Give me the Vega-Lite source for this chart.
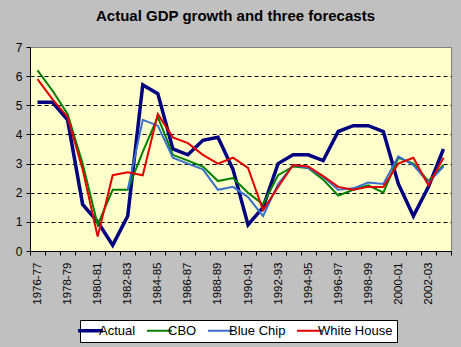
{
  "$schema": "https://vega.github.io/schema/vega-lite/v6.json",
  "autosize": "none",
  "width": 421,
  "height": 204,
  "padding": {"left": 30, "top": 47, "right": 10, "bottom": 96},
  "background": "#C0C0C0",
  "title": {
    "text": "Actual GDP growth and three forecasts",
    "font": "Liberation Sans",
    "fontSize": 15,
    "fontWeight": "bold",
    "color": "#000000",
    "anchor": "middle",
    "offset": 17,
    "dx": -5
  },
  "config": {
    "view": {"fill": "#FFFFCC", "stroke": "#808080", "strokeWidth": 1},
    "axis": {"labelFont": "Liberation Sans", "labelColor": "#000000", "titleFont": "Liberation Sans"}
  },
  "data": {
    "values": [
      {"period": "1976-77", "series": "Actual", "growth": 5.1},
      {"period": "1977-78", "series": "Actual", "growth": 5.1},
      {"period": "1978-79", "series": "Actual", "growth": 4.5},
      {"period": "1979-80", "series": "Actual", "growth": 1.6},
      {"period": "1980-81", "series": "Actual", "growth": 1.0},
      {"period": "1981-82", "series": "Actual", "growth": 0.2},
      {"period": "1982-83", "series": "Actual", "growth": 1.2},
      {"period": "1983-84", "series": "Actual", "growth": 5.7},
      {"period": "1984-85", "series": "Actual", "growth": 5.4},
      {"period": "1985-86", "series": "Actual", "growth": 3.5},
      {"period": "1986-87", "series": "Actual", "growth": 3.3},
      {"period": "1987-88", "series": "Actual", "growth": 3.8},
      {"period": "1988-89", "series": "Actual", "growth": 3.9},
      {"period": "1989-90", "series": "Actual", "growth": 2.8},
      {"period": "1990-91", "series": "Actual", "growth": 0.9},
      {"period": "1991-92", "series": "Actual", "growth": 1.5},
      {"period": "1992-93", "series": "Actual", "growth": 3.0},
      {"period": "1993-94", "series": "Actual", "growth": 3.3},
      {"period": "1994-95", "series": "Actual", "growth": 3.3},
      {"period": "1995-96", "series": "Actual", "growth": 3.1},
      {"period": "1996-97", "series": "Actual", "growth": 4.1},
      {"period": "1997-98", "series": "Actual", "growth": 4.3},
      {"period": "1998-99", "series": "Actual", "growth": 4.3},
      {"period": "1999-00", "series": "Actual", "growth": 4.1},
      {"period": "2000-01", "series": "Actual", "growth": 2.3},
      {"period": "2001-02", "series": "Actual", "growth": 1.2},
      {"period": "2002-03", "series": "Actual", "growth": 2.2},
      {"period": "2003-04", "series": "Actual", "growth": 3.5},
      {"period": "1976-77", "series": "CBO", "growth": 6.2},
      {"period": "1977-78", "series": "CBO", "growth": 5.5},
      {"period": "1978-79", "series": "CBO", "growth": 4.7},
      {"period": "1979-80", "series": "CBO", "growth": 3.0},
      {"period": "1980-81", "series": "CBO", "growth": 0.9},
      {"period": "1981-82", "series": "CBO", "growth": 2.1},
      {"period": "1982-83", "series": "CBO", "growth": 2.1},
      {"period": "1983-84", "series": "CBO", "growth": 3.4},
      {"period": "1984-85", "series": "CBO", "growth": 4.6},
      {"period": "1985-86", "series": "CBO", "growth": 3.3},
      {"period": "1986-87", "series": "CBO", "growth": 3.1},
      {"period": "1987-88", "series": "CBO", "growth": 2.9},
      {"period": "1988-89", "series": "CBO", "growth": 2.4},
      {"period": "1989-90", "series": "CBO", "growth": 2.5},
      {"period": "1990-91", "series": "CBO", "growth": 2.0},
      {"period": "1991-92", "series": "CBO", "growth": 1.6},
      {"period": "1992-93", "series": "CBO", "growth": 2.6},
      {"period": "1993-94", "series": "CBO", "growth": 2.9},
      {"period": "1994-95", "series": "CBO", "growth": 2.85},
      {"period": "1995-96", "series": "CBO", "growth": 2.45},
      {"period": "1996-97", "series": "CBO", "growth": 1.9},
      {"period": "1997-98", "series": "CBO", "growth": 2.1},
      {"period": "1998-99", "series": "CBO", "growth": 2.25},
      {"period": "1999-00", "series": "CBO", "growth": 2.0},
      {"period": "2000-01", "series": "CBO", "growth": 3.2},
      {"period": "2001-02", "series": "CBO", "growth": 3.0},
      {"period": "2002-03", "series": "CBO", "growth": 2.4},
      {"period": "2003-04", "series": "CBO", "growth": 2.95},
      {"period": "1982-83", "series": "Blue Chip", "growth": 2.1},
      {"period": "1983-84", "series": "Blue Chip", "growth": 4.5},
      {"period": "1984-85", "series": "Blue Chip", "growth": 4.3},
      {"period": "1985-86", "series": "Blue Chip", "growth": 3.2},
      {"period": "1986-87", "series": "Blue Chip", "growth": 3.0},
      {"period": "1987-88", "series": "Blue Chip", "growth": 2.8},
      {"period": "1988-89", "series": "Blue Chip", "growth": 2.1},
      {"period": "1989-90", "series": "Blue Chip", "growth": 2.2},
      {"period": "1990-91", "series": "Blue Chip", "growth": 1.85},
      {"period": "1991-92", "series": "Blue Chip", "growth": 1.2},
      {"period": "1992-93", "series": "Blue Chip", "growth": 2.3},
      {"period": "1993-94", "series": "Blue Chip", "growth": 2.95},
      {"period": "1994-95", "series": "Blue Chip", "growth": 2.85},
      {"period": "1995-96", "series": "Blue Chip", "growth": 2.55},
      {"period": "1996-97", "series": "Blue Chip", "growth": 2.1},
      {"period": "1997-98", "series": "Blue Chip", "growth": 2.15},
      {"period": "1998-99", "series": "Blue Chip", "growth": 2.35},
      {"period": "1999-00", "series": "Blue Chip", "growth": 2.3},
      {"period": "2000-01", "series": "Blue Chip", "growth": 3.25},
      {"period": "2001-02", "series": "Blue Chip", "growth": 2.95},
      {"period": "2002-03", "series": "Blue Chip", "growth": 2.35},
      {"period": "2003-04", "series": "Blue Chip", "growth": 2.9},
      {"period": "1976-77", "series": "White House", "growth": 5.9},
      {"period": "1977-78", "series": "White House", "growth": 5.2},
      {"period": "1978-79", "series": "White House", "growth": 4.6},
      {"period": "1979-80", "series": "White House", "growth": 2.8},
      {"period": "1980-81", "series": "White House", "growth": 0.5},
      {"period": "1981-82", "series": "White House", "growth": 2.6},
      {"period": "1982-83", "series": "White House", "growth": 2.7},
      {"period": "1983-84", "series": "White House", "growth": 2.6},
      {"period": "1984-85", "series": "White House", "growth": 4.7},
      {"period": "1985-86", "series": "White House", "growth": 3.9},
      {"period": "1986-87", "series": "White House", "growth": 3.7},
      {"period": "1987-88", "series": "White House", "growth": 3.3},
      {"period": "1988-89", "series": "White House", "growth": 3.0},
      {"period": "1989-90", "series": "White House", "growth": 3.2},
      {"period": "1990-91", "series": "White House", "growth": 2.85},
      {"period": "1991-92", "series": "White House", "growth": 1.4},
      {"period": "1992-93", "series": "White House", "growth": 2.2},
      {"period": "1993-94", "series": "White House", "growth": 2.95},
      {"period": "1994-95", "series": "White House", "growth": 2.9},
      {"period": "1995-96", "series": "White House", "growth": 2.57},
      {"period": "1996-97", "series": "White House", "growth": 2.2},
      {"period": "1997-98", "series": "White House", "growth": 2.1},
      {"period": "1998-99", "series": "White House", "growth": 2.2},
      {"period": "1999-00", "series": "White House", "growth": 2.2},
      {"period": "2000-01", "series": "White House", "growth": 3.0},
      {"period": "2001-02", "series": "White House", "growth": 3.2},
      {"period": "2002-03", "series": "White House", "growth": 2.25},
      {"period": "2003-04", "series": "White House", "growth": 3.2}
    ]
  },
  "mark": {"type": "line", "strokeJoin": "miter", "strokeCap": "butt"},
  "encoding": {
    "x": {
      "field": "period",
      "type": "ordinal",
      "sort": null,
      "scale": {"type": "band", "paddingInner": 0, "paddingOuter": 0},
      "axis": {
        "title": null,
        "labelAngle": 270,
        "labelFontSize": 11.5,
        "labelPadding": 7,
        "labelOverlap": false,
        "labelExpr": "toNumber(substring(datum.value, 0, 4)) % 2 == 0 ? datum.value : ''",
        "tickBand": "extent",
        "tickSize": 4,
        "tickColor": "#000000",
        "domainColor": "#000000",
        "grid": false
      }
    },
    "y": {
      "field": "growth",
      "type": "quantitative",
      "scale": {"domain": [0, 7], "nice": false, "zero": true},
      "axis": {
        "title": null,
        "values": [0, 1, 2, 3, 4, 5, 6, 7],
        "labelFontSize": 12,
        "labelPadding": 4,
        "tickSize": 4,
        "tickColor": "#000000",
        "domainColor": "#000000",
        "grid": true,
        "gridColor": {"condition": {"test": "datum.value == 0 || datum.value == 7", "value": "transparent"}, "value": "#000000"},
        "gridDash": [4, 3],
        "gridWidth": 1
      }
    },
    "color": {
      "field": "series",
      "type": "nominal",
      "sort": ["Actual", "CBO", "Blue Chip", "White House"],
      "scale": {
        "domain": ["Actual", "CBO", "Blue Chip", "White House"],
        "range": ["#000080", "#008000", "#3A6FD0", "#E00000"]
      },
      "legend": {
        "title": null,
        "orient": "none",
        "legendX": 50,
        "legendY": 273,
        "direction": "horizontal",
        "symbolType": "stroke",
        "symbolSize": 625,
        "labelFont": "Liberation Sans",
        "labelFontSize": 13,
        "labelColor": "#000000",
        "labelOffset": 2,
        "columnPadding": 7,
        "padding": 4,
        "fillColor": "#FFFFFF",
        "strokeColor": "#000000",
        "encode": {
          "symbols": {
            "update": {
              "strokeWidth": {"signal": "datum.value == 'Actual' ? 3.5 : 2"}
            }
          }
        }
      }
    },
    "strokeWidth": {
      "condition": {"test": "datum.series == 'Actual'", "value": 3.5},
      "value": 2
    }
  }
}
